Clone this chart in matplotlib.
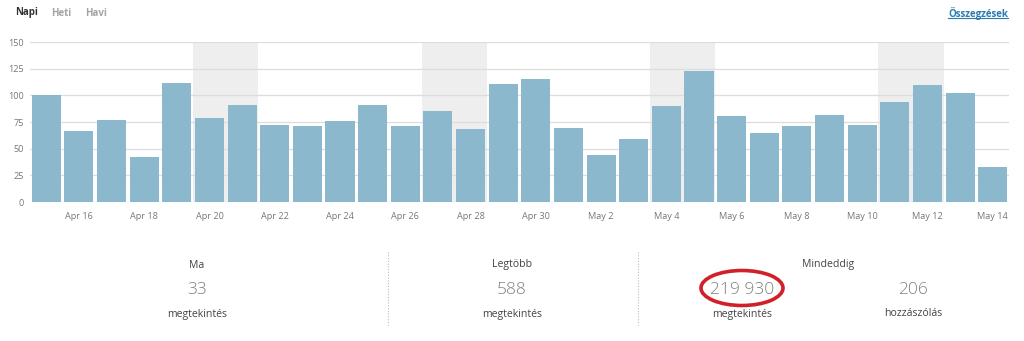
import numpy as np
import pandas as pd
import matplotlib
matplotlib.use('Agg')
from matplotlib import pyplot as plt
from matplotlib.patches import Ellipse
from matplotlib.lines import Line2D

plt.rcParams['font.family'] = ['Open Sans', 'DejaVu Sans']

# Daily page views, Apr 15 - May 14
days = pd.date_range('2019-04-15', periods=30, freq='D')
views = [100, 67, 77, 42, 112, 79, 91, 72, 71, 76,
         91, 71, 85, 68, 111, 115, 69, 44, 59, 90,
         123, 81, 65, 71, 82, 72, 94, 110, 102, 33]
y_ticks = [0, 25, 50, 75, 100, 125, 150]

tabs = ['Napi', 'Heti', 'Havi']
today_views = '33'
best_views = '588'
total_views = '219 930'
total_comments = '206'

W, H = 1024, 341
fig = plt.figure(figsize=(W / 100, H / 100), dpi=100)
fig.patch.set_facecolor('white')


def fx(px):
    return px / W


def fy(py):
    return 1 - py / H


ax = fig.add_axes([fx(30), fy(202), fx(1009) - fx(30), fy(42) - fy(202)])
x = np.arange(len(views))

# weekend shading
for i, d in enumerate(days):
    if d.dayofweek == 5:
        ax.axvspan(i - 0.5, i + 1.5, color='#eeeeee', zorder=0, lw=0)

ax.bar(x, views, width=0.89, color='#8bb8cc', zorder=2)

ax.set_xlim(-0.5, len(views) - 0.5)
ax.set_ylim(0, 150)
ax.set_yticks(y_ticks)
ax.yaxis.grid(True, color='#dddddd', lw=0.9, zorder=1)
ax.set_axisbelow(True)

tick_idx = x[1::2]
ax.set_xticks(tick_idx)
ax.set_xticklabels([f"{days[i]:%b} {days[i].day}" for i in tick_idx])
ax.tick_params(axis='both', length=0, labelsize=6.6, colors='#777777')
ax.tick_params(axis='x', pad=7)
ax.tick_params(axis='y', pad=4.5)
for s in ax.spines.values():
    s.set_visible(False)

# period tabs
tab_x = [15, 51, 85]
for i, (t, px) in enumerate(zip(tabs, tab_x)):
    fig.text(fx(px), fy(13), t, fontsize=7, fontweight='bold',
             color='#333333' if i == 0 else '#a5a5a5', ha='left', va='center')

link = fig.text(fx(1008), fy(13), 'Összegzések', fontsize=7, fontweight='bold',
                color='#2b7bb0', ha='right', va='center')
fig.canvas.draw()
bb = link.get_window_extent().transformed(fig.transFigure.inverted())
fig.add_artist(Line2D([bb.x0, bb.x1], [bb.y0 + 0.004, bb.y0 + 0.004],
                      transform=fig.transFigure, color='#2b7bb0', lw=0.8))

# summary block
label_kw = dict(fontsize=7.6, color='#444444', ha='center', va='center')
num_kw = dict(fontsize=12.5, color='#808080', ha='center', va='center',
              fontweight='light')

fig.text(fx(197), fy(265), 'Ma', **label_kw)
fig.text(fx(197), fy(290), today_views, **num_kw)
fig.text(fx(197), fy(314), 'megtekintés', **label_kw)

fig.text(fx(512), fy(265), 'Legtöbb', **label_kw)
fig.text(fx(512), fy(290), best_views, **num_kw)
fig.text(fx(512), fy(314), 'megtekintés', **label_kw)

fig.text(fx(828), fy(264), 'Mindeddig', **label_kw)
fig.text(fx(742), fy(290), total_views, **num_kw)
fig.text(fx(742), fy(314), 'megtekintés', **label_kw)
fig.text(fx(913), fy(290), total_comments, **num_kw)
fig.text(fx(913), fy(314), 'hozzászólás', **label_kw)

for px in (388, 638):
    fig.add_artist(Line2D([fx(px), fx(px)], [fy(252), fy(325)],
                          transform=fig.transFigure, color='#bbbbbb',
                          lw=0.8, ls=(0, (1, 1.5))))

fig.add_artist(Ellipse((fx(742), fy(288)), fx(82), 35 / H,
                       transform=fig.transFigure, fill=False,
                       edgecolor='#d0202a', lw=2.6))

fig.savefig('out.png', dpi=100, facecolor='white')
